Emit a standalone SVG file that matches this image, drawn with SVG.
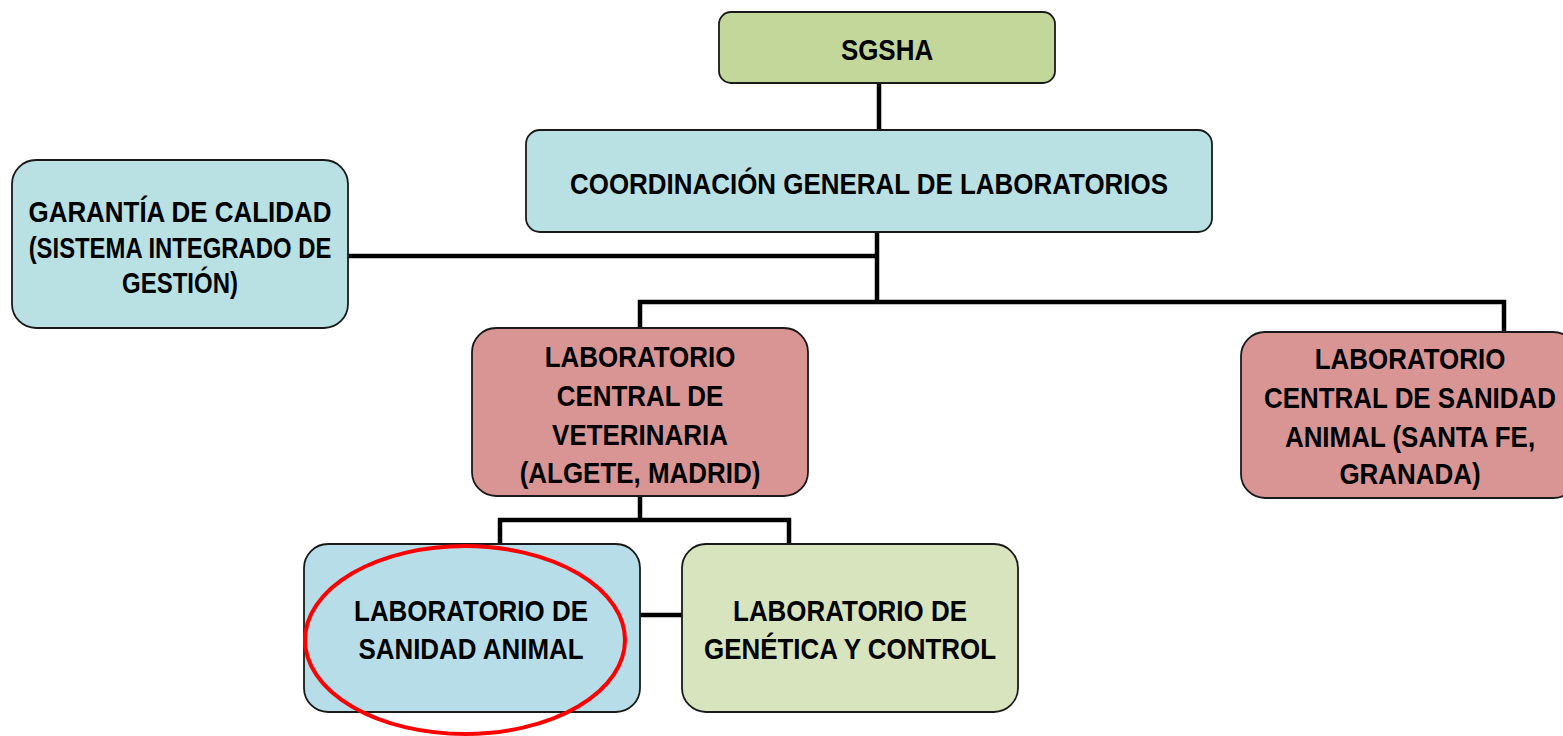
<svg xmlns="http://www.w3.org/2000/svg" width="1563" height="736" viewBox="0 0 1563 736">
<style>
.box{stroke:#1a1a1a;stroke-width:1.8}
.t{font-family:"Liberation Sans",Arial,sans-serif;font-weight:bold;font-size:30px;fill:#000;text-anchor:middle}
.c{stroke:#000;stroke-width:4.5;fill:none}
</style>
<rect width="1563" height="736" fill="#fff"/>
<g id="connectors">
<line class="c" x1="879" y1="83" x2="879" y2="130"/>
<line class="c" x1="877" y1="232" x2="877" y2="304"/>
<line class="c" x1="348" y1="256" x2="877" y2="256"/>
<polyline class="c" points="640,328 640,302 1504,302 1504,332"/>
<line class="c" x1="640" y1="496" x2="640" y2="520"/>
<polyline class="c" points="500,544 500,520 789,520 789,544"/>
<line class="c" x1="640" y1="615" x2="682" y2="615"/>
</g>
<g id="sgsha">
<rect class="box" x="719" y="12" width="336" height="71" rx="12" fill="#c4d79b"/>
<g transform="translate(887,0) scale(0.865,1)"><text class="t" x="0" y="60">SGSHA</text></g>
</g>
<g id="coordinacion">
<rect class="box" x="526" y="130" width="686" height="102" rx="14" fill="#b9e0e2"/>
<g transform="translate(869,0) scale(0.865,1)"><text class="t" x="0" y="194">COORDINACIÓN GENERAL DE LABORATORIOS</text></g>
</g>
<g id="garantia">
<rect class="box" x="12" y="160" width="336" height="168" rx="24" fill="#b9e0e2"/>
<g transform="translate(180,0) scale(0.865,1)">
<text class="t" x="0" y="222">GARANTÍA DE CALIDAD</text>
<text class="t" x="0" y="258" textLength="350" lengthAdjust="spacingAndGlyphs">(SISTEMA INTEGRADO DE</text>
<text class="t" x="0" y="293" textLength="134" lengthAdjust="spacingAndGlyphs">GESTIÓN)</text>
</g>
</g>
<g id="lab-central-veterinaria">
<rect class="box" x="472" y="328" width="336" height="168" rx="24" fill="#d99594"/>
<g transform="translate(640,0) scale(0.865,1)">
<text class="t" x="0" y="367">LABORATORIO</text>
<text class="t" x="0" y="406">CENTRAL DE</text>
<text class="t" x="0" y="445">VETERINARIA</text>
<text class="t" x="0" y="483">(ALGETE, MADRID)</text>
</g>
</g>
<g id="lab-central-sanidad-animal">
<rect class="box" x="1241" y="332" width="336" height="166" rx="24" fill="#d99594"/>
<g transform="translate(1410,0) scale(0.865,1)">
<text class="t" x="0" y="369">LABORATORIO</text>
<text class="t" x="0" y="408">CENTRAL DE SANIDAD</text>
<text class="t" x="0" y="447">ANIMAL (SANTA FE,</text>
<text class="t" x="0" y="484">GRANADA)</text>
</g>
</g>
<g id="lab-sanidad-animal">
<rect class="box" x="304" y="544" width="336" height="168" rx="24" fill="#b7dde8"/>
<g transform="translate(471,0) scale(0.865,1)">
<text class="t" x="0" y="621">LABORATORIO DE</text>
<text class="t" x="0" y="659">SANIDAD ANIMAL</text>
</g>
</g>
<g id="lab-genetica">
<rect class="box" x="682" y="544" width="336" height="168" rx="24" fill="#d7e4bd"/>
<g transform="translate(850,0) scale(0.865,1)">
<text class="t" x="0" y="621">LABORATORIO DE</text>
<text class="t" x="0" y="659">GENÉTICA Y CONTROL</text>
</g>
</g>
<g id="highlight">
<ellipse cx="465" cy="640" rx="160" ry="94" fill="none" stroke="#ff0000" stroke-width="4"/>
</g>
</svg>
